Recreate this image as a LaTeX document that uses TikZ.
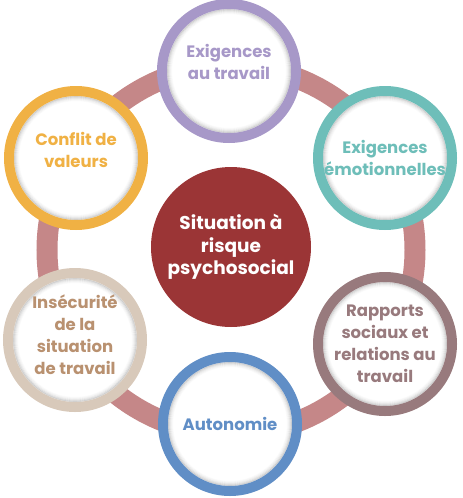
\documentclass[tikz,border=0pt]{standalone}
\usepackage{fontspec}
\setmainfont{Poppins}
\definecolor{ringc}{RGB}{197,135,136}
\definecolor{cpurple}{RGB}{167,152,200}
\definecolor{cteal}{RGB}{110,190,185}
\definecolor{cmauve}{RGB}{152,122,125}
\definecolor{cblue}{RGB}{96,142,198}
\definecolor{cbeige}{RGB}{216,201,186}
\definecolor{ctan}{RGB}{185,145,112}
\definecolor{corange}{RGB}{240,177,68}
\definecolor{cdred}{RGB}{155,53,54}
\tikzset{
  sat/.style={circle, draw=#1, line width=10pt, fill=white, minimum size=134pt,
    inner sep=0pt, align=center, text=#1,
    font=\bfseries\fontsize{16.5}{22}\selectfont,
    path picture={
      \foreach \r/\o in {61.5/0.16,60.5/0.11,59.5/0.07,58.5/0.04,57.5/0.02}
        \draw[black, opacity=\o, line width=1.1pt] (path picture bounding box.center) circle[radius=\r pt];
    }},
  hub/.style={circle, fill=cdred, minimum size=160pt, inner sep=0pt, align=center,
    text=white, font=\bfseries\fontsize{18.5}{22.5}\selectfont}
}
\begin{document}
\begin{tikzpicture}[x=1pt,y=-1pt]
\useasboundingbox (0,0) rectangle (463,498);
\coordinate (o) at (231,250);
\draw[ringc, line width=21pt] (o) circle[radius=184pt];
\node[hub] (hub) at (231,247) {Situation à\\risque\\psychosocial};
\node[sat=cpurple] (exi) at (229,71) {Exigences\\au travail\\[-4pt]};
\node[sat=cteal] (emo) at (385,158) {Exigences\\émotionnelles};
\node[sat=cmauve] (rap) at (385,344) {Rapports\\sociaux et\\relations au\\travail};
\node[sat=cblue] (aut) at (230,424) {Autonomie};
\node[sat=cbeige, text=ctan] (ins) at (75,340) {Insécurité\\de la\\situation\\de travail\\[-12pt]};
\node[sat=corange] (con) at (76,158) {Conflit de\\valeurs\\[-6pt]};
\end{tikzpicture}
\end{document}
